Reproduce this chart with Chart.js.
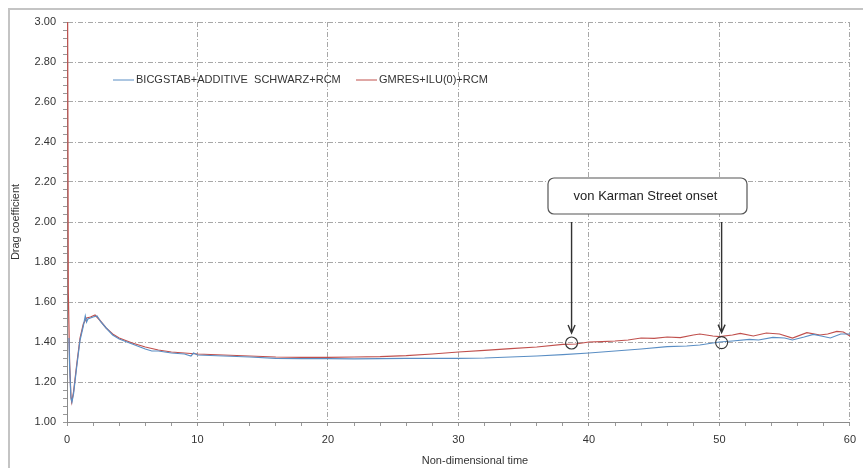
<!DOCTYPE html>
<html>
<head>
<meta charset="utf-8">
<script src="https://cdn.jsdelivr.net/npm/chart.js@4.4.0/dist/chart.umd.min.js"></script>
<style>
  html, body { margin: 0; padding: 0; background: #fff; }
</style>
</head>
<body>
<canvas id="dragChart" width="863" height="468"></canvas>
<script>
// series (time, drag coefficient)
var blueTime = [0.15, 0.2, 0.3, 0.38, 0.5, 0.75, 1.0, 1.25, 1.4, 1.5, 1.6, 1.8, 2.0, 2.3, 2.6, 3.0, 3.5, 4.0, 5.0, 6.0, 6.5, 7.0, 8.0, 9.0, 9.5, 9.7, 10, 12, 14, 16, 18, 20, 22, 24, 26, 28, 30, 32, 34, 36, 38, 40, 42, 44, 46, 47.5, 48.5, 50, 51, 52.3, 53, 54.1, 55, 55.6, 56.5, 57.2, 57.8, 58.5, 59.3, 60];
var blueDrag = [1.42, 1.28, 1.12, 1.10, 1.14, 1.28, 1.41, 1.48, 1.53, 1.50, 1.515, 1.52, 1.525, 1.53, 1.50, 1.47, 1.435, 1.415, 1.39, 1.365, 1.355, 1.355, 1.345, 1.34, 1.33, 1.345, 1.335, 1.33, 1.325, 1.318, 1.317, 1.317, 1.316, 1.317, 1.318, 1.318, 1.318, 1.32, 1.325, 1.33, 1.337, 1.345, 1.355, 1.365, 1.377, 1.38, 1.385, 1.40, 1.405, 1.413, 1.41, 1.423, 1.42, 1.41, 1.425, 1.438, 1.43, 1.42, 1.44, 1.44];

var redTime = [0.03, 0.1, 0.2, 0.3, 0.36, 0.5, 0.75, 1.0, 1.25, 1.5, 1.8, 2.15, 2.5, 3.0, 3.5, 4.0, 5.0, 6.0, 7.0, 8.0, 9.0, 10, 12, 14, 16, 18, 20, 22, 24, 26, 28, 30, 32, 34, 36, 38, 39, 40, 41, 42, 43, 44, 45, 46, 47, 48, 48.5, 49.5, 50, 51, 51.6, 52.6, 53.6, 54.6, 55.6, 56.7, 57.7, 58.3, 59, 59.5, 60];
var redDrag = [3.5, 1.65, 1.3, 1.13, 1.10, 1.15, 1.29, 1.42, 1.49, 1.52, 1.525, 1.535, 1.51, 1.47, 1.44, 1.42, 1.395, 1.375, 1.36, 1.35, 1.345, 1.34, 1.335, 1.33, 1.325, 1.323, 1.323, 1.325, 1.327, 1.332, 1.34, 1.35, 1.358, 1.367, 1.375, 1.388, 1.39, 1.40, 1.402, 1.405, 1.41, 1.42, 1.418, 1.425, 1.422, 1.435, 1.44, 1.43, 1.427, 1.435, 1.443, 1.43, 1.445, 1.44, 1.42, 1.447, 1.435, 1.44, 1.453, 1.45, 1.43];

var seriesLabels = ["BICGSTAB+ADDITIVE  SCHWARZ+RCM", "GMRES+ILU(0)+RCM"];
var seriesColors = ["#5a8ec4", "#c0504d"];

// onset markers (time, drag)
var onsetTime = [38.67, 50.17];
var onsetDrag = [1.395, 1.397];
var noteText = "von Karman Street onset";

var fontName = "'Liberation Sans', Arial, sans-serif";
var textColor = "#333";

function pairs(xs, ys) {
  return xs.map(function (x, i) { return { x: x, y: ys[i] }; });
}

function isMajorY(v) { return Math.abs(v * 5 - Math.round(v * 5)) < 1e-6; }
function isMajorX(v) { return Math.abs(v / 10 - Math.round(v / 10)) < 1e-6; }

// frame, legend, note box, arrows and circles
var extras = {
  id: "extras",
  beforeDraw: function (chart) {
    var ctx = chart.ctx;
    ctx.save();
    ctx.fillStyle = "#fff";
    ctx.fillRect(0, 0, chart.width, chart.height);
    ctx.strokeStyle = "#c4c4c4";
    ctx.lineWidth = 2;
    ctx.beginPath();
    ctx.moveTo(9, chart.height);
    ctx.lineTo(9, 9);
    ctx.lineTo(chart.width, 9);
    ctx.stroke();
    ctx.restore();
  },
  afterDraw: function (chart) {
    var ctx = chart.ctx;
    var xs = chart.scales.x, ys = chart.scales.y;
    ctx.save();

    // legend
    ctx.font = "11px " + fontName;
    ctx.textBaseline = "middle";
    var legendX = [113, 356];
    chart.data.datasets.forEach(function (ds, i) {
      ctx.strokeStyle = ds.borderColor;
      ctx.lineWidth = 1;
      ctx.beginPath();
      ctx.moveTo(legendX[i], 80);
      ctx.lineTo(legendX[i] + 21, 80);
      ctx.stroke();
      ctx.fillStyle = textColor;
      ctx.fillText(ds.label, legendX[i] + 23, 80);
    });

    // x axis title
    ctx.textAlign = "center";
    ctx.fillText("Non-dimensional time", 475, 461);

    // note box
    var bx = 548, by = 178, bw = 199, bh = 36, r = 6;
    ctx.fillStyle = "#fff";
    ctx.strokeStyle = "#555";
    ctx.lineWidth = 1.2;
    ctx.beginPath();
    ctx.roundRect(bx, by, bw, bh, r);
    ctx.fill();
    ctx.stroke();
    ctx.fillStyle = "#222";
    ctx.font = "13px " + fontName;
    ctx.fillText(noteText, bx + bw / 2 - 2, by + bh / 2);

    // arrows and circles
    for (var i = 0; i < onsetTime.length; i++) {
      var px = xs.getPixelForValue(onsetTime[i]);
      var py = ys.getPixelForValue(onsetDrag[i]);
      ctx.strokeStyle = "#333";
      ctx.lineWidth = 1.4;
      ctx.beginPath();
      ctx.moveTo(px, by + bh + 8);
      ctx.lineTo(px, py - 10);
      ctx.moveTo(px - 3.5, py - 18);
      ctx.lineTo(px, py - 10);
      ctx.lineTo(px + 3.5, py - 18);
      ctx.stroke();
      ctx.lineWidth = 1.1;
      ctx.beginPath();
      ctx.arc(px, py, 6, 0, Math.PI * 2);
      ctx.stroke();
    }
    ctx.restore();
  }
};

new Chart("dragChart", {
  type: "line",
  data: {
    datasets: [{
      label: seriesLabels[0],
      data: pairs(blueTime, blueDrag),
      borderColor: seriesColors[0],
      borderWidth: 1.2,
      pointRadius: 0,
      tension: 0
    }, {
      label: seriesLabels[1],
      data: pairs(redTime, redDrag),
      borderColor: seriesColors[1],
      borderWidth: 1.2,
      pointRadius: 0,
      tension: 0
    }]
  },
  options: {
    responsive: false,
    animation: false,
    layout: { padding: { left: 0, right: 13, top: 22, bottom: 0 } },
    plugins: {
      legend: { display: false },
      tooltip: { enabled: false }
    },
    scales: {
      x: {
        type: "linear",
        min: 0,
        max: 60,
        afterFit: function (scale) { scale.height = 46; },
        ticks: {
          stepSize: 2,
          autoSkip: false,
          maxRotation: 0,
          padding: 7,
          color: textColor,
          font: { family: fontName, size: 11 },
          callback: function (v) { return isMajorX(v) ? String(Math.round(v)) : ""; }
        },
        grid: {
          color: function (c) { return c.tick && isMajorX(c.tick.value) ? "#a8a8a8" : "rgba(0,0,0,0)"; },
          tickColor: "#999",
          tickLength: 4,
          tickBorderDash: []
        },
        border: { color: "#8a8a8a", width: 1, dash: [5, 2, 1, 2] }
      },
      y: {
        min: 1,
        max: 3,
        afterFit: function (scale) { scale.width = 67; },
        ticks: {
          stepSize: 0.04,
          autoSkip: false,
          padding: 7,
          color: textColor,
          font: { family: fontName, size: 11 },
          callback: function (v) { return isMajorY(v) ? v.toFixed(2) : ""; }
        },
        grid: {
          color: function (c) { return c.tick && isMajorY(c.tick.value) ? "#a8a8a8" : "rgba(0,0,0,0)"; },
          tickColor: "#999",
          tickLength: 4,
          tickBorderDash: []
        },
        border: { color: "#8a8a8a", width: 1, dash: [5, 2, 1, 2] },
        title: {
          display: true,
          text: "Drag coefficient",
          color: textColor,
          font: { family: fontName, size: 11 },
          padding: { top: 9, bottom: 0 }
        }
      }
    }
  },
  plugins: [extras]
});
</script>
</body>
</html>
